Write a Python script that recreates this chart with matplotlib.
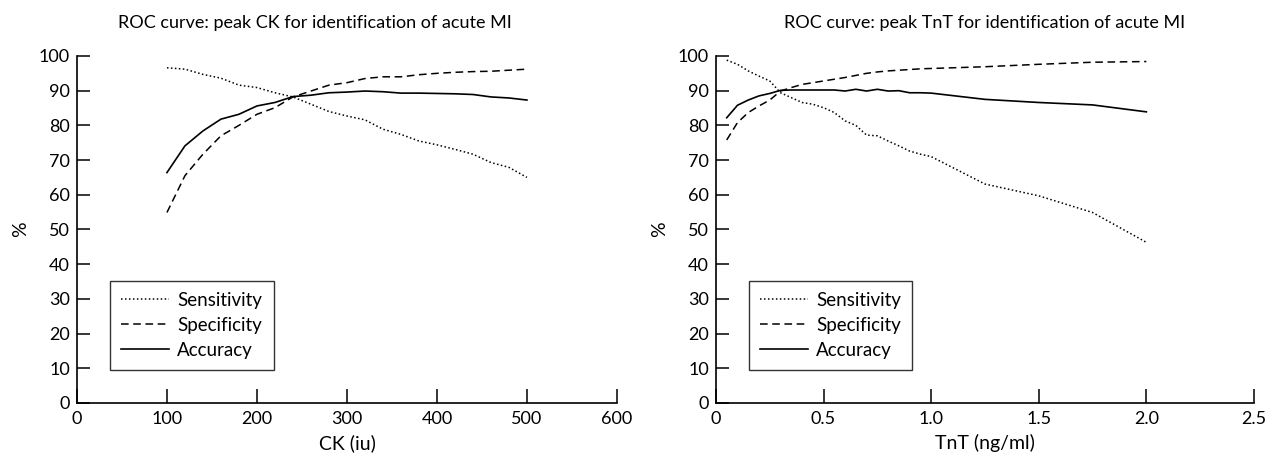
import matplotlib
matplotlib.use("Agg")
import matplotlib.pyplot as plt

# CK panel data
ckThresholds = [100, 120, 140, 160, 180, 200, 220, 240, 260, 280, 300,
                320, 340, 360, 380, 400, 420, 440, 460, 480, 500]
ckSensitivity = [96.6, 96.2, 94.7, 93.6, 91.6, 90.9, 89.4, 88.2, 86.1, 84.0, 82.7,
                 81.6, 78.9, 77.4, 75.5, 74.4, 73.1, 71.7, 69.3, 67.9, 65.0]
ckSpecificity = [54.9, 65.5, 71.7, 77.0, 80.0, 83.2, 85.1, 88.2, 89.9, 91.6, 92.3,
                 93.5, 94.0, 94.0, 94.6, 95.0, 95.3, 95.5, 95.6, 95.9, 96.2]
ckAccuracy = [66.4, 74.1, 78.4, 81.8, 83.2, 85.6, 86.6, 88.3, 88.7, 89.4, 89.6,
              89.9, 89.7, 89.3, 89.3, 89.2, 89.1, 88.9, 88.2, 87.9, 87.3]

# TnT panel data
tntThresholds = [0.05, 0.1, 0.15, 0.2, 0.25, 0.3, 0.35, 0.4, 0.45, 0.5, 0.55,
                 0.6, 0.65, 0.7, 0.75, 0.8, 0.85, 0.9, 0.95, 1.0, 1.25, 1.5, 1.75, 2.0]
tntSensitivity = [98.8, 97.6, 95.7, 94.2, 92.8, 89.4, 88.0, 86.6, 86.1, 85.1, 83.7,
                  81.3, 80.0, 77.2, 77.0, 75.5, 74.1, 72.6, 71.7, 71.0, 63.1, 59.7, 54.9, 46.3]
tntSpecificity = [75.8, 80.8, 83.7, 85.6, 87.3, 89.9, 90.9, 91.8, 92.3, 92.8, 93.3,
                  93.8, 94.4, 95.0, 95.4, 95.7, 95.9, 96.1, 96.3, 96.4, 96.9, 97.6, 98.2, 98.4]
tntAccuracy = [82.2, 85.8, 87.3, 88.5, 89.2, 90.1, 90.2, 90.2, 90.2, 90.2, 90.2,
               89.9, 90.4, 89.9, 90.4, 89.9, 90.0, 89.4, 89.4, 89.3, 87.5, 86.6, 85.9, 83.9]

plt.rcParams['font.family'] = ['Lato', 'DejaVu Sans']
plt.rcParams['font.size'] = 13

fig = plt.figure(figsize=(12.76, 4.57), dpi=100)
axLeft = fig.add_axes([0.0603, 0.1182, 0.4232, 0.7593])
axRight = fig.add_axes([0.5611, 0.1182, 0.4216, 0.7593])

dotted = (0, (1, 1.6))
dashed = (0, (5, 3))


def draw_panel(ax, x, sens, spec, acc, title, titleX, xlabel, xlim, xticks, xticklabels):
    ax.plot(x, sens, color='black', lw=1.1, ls=dotted, label='Sensitivity')
    ax.plot(x, spec, color='black', lw=1.1, ls=dashed, label='Specificity')
    ax.plot(x, acc, color='black', lw=1.2, ls='-', label='Accuracy')

    ax.set_xlim(*xlim)
    ax.set_ylim(0, 100)
    ax.set_xticks(xticks)
    ax.set_xticklabels(xticklabels)
    ax.set_yticks(range(0, 101, 10))

    ax.spines['top'].set_visible(False)
    ax.spines['right'].set_visible(False)
    ax.spines['left'].set_linewidth(1.2)
    ax.spines['bottom'].set_linewidth(1.2)
    ax.tick_params(axis='y', direction='in', length=9.5, width=1.1, pad=5, labelsize=13)
    ax.tick_params(axis='x', direction='in', length=10, width=1.1, pad=6, labelsize=13)

    ax.set_title(title, fontsize=13, pad=20, x=titleX)
    ax.set_xlabel(xlabel, fontsize=14, labelpad=5)
    ax.set_ylabel('%', fontsize=14, labelpad=7)

    leg = ax.legend(loc='lower left', bbox_to_anchor=(0.061, 0.095), borderaxespad=0,
                    frameon=True, fancybox=False, edgecolor='black', fontsize=13.5,
                    handlelength=2.55, handletextpad=0.45, borderpad=0.6,
                    labelspacing=0.42)
    leg.get_frame().set_linewidth(1.0)


draw_panel(axLeft, ckThresholds, ckSensitivity, ckSpecificity, ckAccuracy,
           'ROC curve: peak CK for identification of acute MI', 0.44, 'CK (iu)',
           (0, 600), [0, 100, 200, 300, 400, 500, 600],
           ['0', '100', '200', '300', '400', '500', '600'])
draw_panel(axRight, tntThresholds, tntSensitivity, tntSpecificity, tntAccuracy,
           'ROC curve: peak TnT for identification of acute MI', 0.5, 'TnT (ng/ml)',
           (0, 2.5), [0, 0.5, 1.0, 1.5, 2.0, 2.5],
           ['0', '0.5', '1.0', '1.5', '2.0', '2.5'])

fig.savefig('out.png', dpi=100)
